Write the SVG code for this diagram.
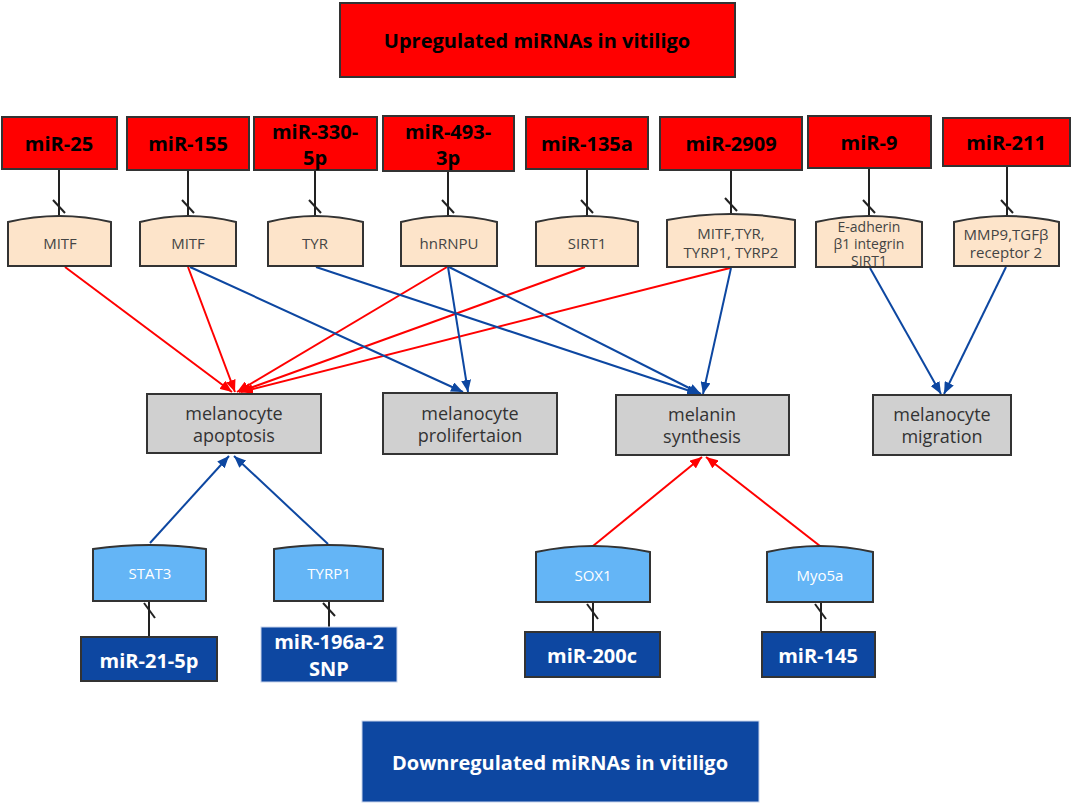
<svg xmlns="http://www.w3.org/2000/svg" width="1072" height="804" viewBox="0 0 1072 804">
<defs>
<marker id="ar" viewBox="0 0 12 10" refX="12" refY="5" markerWidth="12" markerHeight="10" markerUnits="userSpaceOnUse" orient="auto"><polygon points="0,0 12,5 0,10" fill="#ff0000"/></marker>
<marker id="ab" viewBox="0 0 12 10" refX="12" refY="5" markerWidth="12" markerHeight="10" markerUnits="userSpaceOnUse" orient="auto"><polygon points="0,0 12,5 0,10" fill="#0d47a1"/></marker>
</defs>
<style>
text{font-family:"Open Sans","Noto Sans","Liberation Sans",sans-serif;text-anchor:middle;dominant-baseline:central}
.up rect{fill:#ff0000;stroke:#333;stroke-width:2}
.up text{font-size:20px;font-weight:bold;fill:#000}
.tg path{fill:#fde4ca;stroke:#333;stroke-width:2}
.tg text{font-size:15px;fill:#444}
.tg text.s{font-size:14px}
.tb path{fill:#64b5f6;stroke:#333;stroke-width:2}
.tb text{font-size:15px;fill:#fff}
.pr rect{fill:#d0d0d0;stroke:#333;stroke-width:2}
.pr text{font-size:18px;fill:#333}
.dn rect{fill:#0d47a1;stroke:#333;stroke-width:2}
.dn text{font-size:20px;font-weight:bold;fill:#fff}
.k{stroke:#222;stroke-width:2;fill:none}
.r{stroke:#ff0000;stroke-width:2;fill:none;marker-end:url(#ar)}
.b{stroke:#0d47a1;stroke-width:2;fill:none;marker-end:url(#ab)}
</style>
<rect width="1072" height="804" fill="#fff"/>

<g id="title-up" class="up"><rect x="340" y="3" width="395" height="74"/><text x="537" y="40" font-size="19">Upregulated miRNAs in vitiligo</text></g>
<g id="title-down" class="dn"><rect x="362" y="721" width="397" height="81" style="stroke:#c8d4ec;stroke-width:1"/><text x="560" y="762">Downregulated miRNAs in vitiligo</text></g>

<g id="connectors">
<line class="k" x1="59" y1="169" x2="59" y2="216"/><line class="k" x1="53" y1="200" x2="65" y2="213"/>
<line class="k" x1="188" y1="170" x2="188" y2="216"/><line class="k" x1="182" y1="200" x2="194" y2="213"/>
<line class="k" x1="315" y1="170" x2="315" y2="216"/><line class="k" x1="309" y1="200" x2="321" y2="213"/>
<line class="k" x1="448" y1="171" x2="448" y2="216"/><line class="k" x1="442" y1="200" x2="454" y2="213"/>
<line class="k" x1="587" y1="169" x2="587" y2="216"/><line class="k" x1="581" y1="200" x2="593" y2="213"/>
<line class="k" x1="731" y1="170" x2="731" y2="214"/><line class="k" x1="725" y1="198" x2="737" y2="211"/>
<line class="k" x1="869" y1="168" x2="869" y2="216"/><line class="k" x1="863" y1="200" x2="875" y2="213"/>
<line class="k" x1="1007" y1="166" x2="1007" y2="216"/><line class="k" x1="1001" y1="200" x2="1013" y2="213"/>

<line class="k" x1="149" y1="637" x2="149" y2="601"/><line class="k" x1="144" y1="603" x2="155" y2="618"/>
<line class="k" x1="329" y1="627" x2="329" y2="601"/><line class="k" x1="323" y1="603" x2="335" y2="616"/>
<line class="k" x1="593" y1="632" x2="593" y2="602"/><line class="k" x1="587" y1="604" x2="598" y2="619"/>
<line class="k" x1="821" y1="632" x2="821" y2="602"/><line class="k" x1="815" y1="604" x2="826" y2="619"/>

<line class="r" x1="65" y1="267" x2="232" y2="392"/>
<line class="r" x1="188" y1="267" x2="235" y2="392"/>
<line class="r" x1="447" y1="267" x2="237" y2="392"/>
<line class="r" x1="585" y1="267" x2="239" y2="392"/>
<line class="r" x1="730" y1="268" x2="241" y2="392"/>
<line class="b" x1="190" y1="267" x2="463" y2="392"/>
<line class="b" x1="448" y1="267" x2="468" y2="392"/>
<line class="b" x1="316" y1="267" x2="699" y2="394"/>
<line class="b" x1="449" y1="267" x2="701" y2="394"/>
<line class="b" x1="731" y1="268" x2="703" y2="394"/>
<line class="b" x1="870" y1="268" x2="941" y2="394"/>
<line class="b" x1="1006" y1="267" x2="944" y2="394"/>
<line class="b" x1="150" y1="543" x2="229" y2="456"/>
<line class="b" x1="328" y1="544" x2="234" y2="456"/>
<line class="r" x1="593" y1="546" x2="702" y2="457"/>
<line class="r" x1="820" y1="546" x2="706" y2="457"/>
</g>

<g id="mir-25" class="up"><rect x="2" y="117" width="115" height="52"/><text x="59" y="143">miR-25</text></g>
<g id="mir-155" class="up"><rect x="127" y="117" width="122" height="53"/><text x="188" y="143">miR-155</text></g>
<g id="mir-330" class="up"><rect x="254" y="117" width="123" height="53"/><text x="315" y="131">miR-330-</text><text x="315" y="157">5p</text></g>
<g id="mir-493" class="up"><rect x="383" y="116" width="131" height="55"/><text x="448" y="131">miR-493-</text><text x="448" y="157">3p</text></g>
<g id="mir-135a" class="up"><rect x="526" y="117" width="122" height="52"/><text x="587" y="143">miR-135a</text></g>
<g id="mir-2909" class="up"><rect x="660" y="117" width="142" height="53"/><text x="731" y="143">miR-2909</text></g>
<g id="mir-9" class="up"><rect x="808" y="116" width="123" height="52"/><text x="869" y="142">miR-9</text></g>
<g id="mir-211" class="up"><rect x="943" y="118" width="127" height="48"/><text x="1006" y="142">miR-211</text></g>

<g id="t-mitf1" class="tg"><path d="M8,222 Q59.5,210 111,222 L111,266 L8,266 Z"/><text x="60" y="243">MITF</text></g>
<g id="t-mitf2" class="tg"><path d="M140,222 Q188,210 236,222 L236,266 L140,266 Z"/><text x="188" y="243">MITF</text></g>
<g id="t-tyr" class="tg"><path d="M268,222 Q315.5,210 363,222 L363,266 L268,266 Z"/><text x="315" y="243">TYR</text></g>
<g id="t-hnrnpu" class="tg"><path d="M401,222 Q449,210 497,222 L497,266 L401,266 Z"/><text x="449" y="243">hnRNPU</text></g>
<g id="t-sirt1" class="tg"><path d="M536,222 Q587,210 638,222 L638,266 L536,266 Z"/><text x="587" y="243">SIRT1</text></g>
<g id="t-mitf-tyr" class="tg"><path d="M667,220 Q731,208 795,220 L795,267 L667,267 Z"/><text x="731" y="233">MITF,TYR,</text><text x="731" y="252">TYRP1, TYRP2</text></g>
<g id="t-ecad" class="tg"><path d="M816,222 Q869,210 922,222 L922,267 L816,267 Z"/><text class="s" x="869" y="226">E-adherin</text><text class="s" x="869" y="243">β1 integrin</text><text class="s" x="869" y="260">SIRT1</text></g>
<g id="t-mmp9" class="tg"><path d="M954,222 Q1006.5,210 1059,222 L1059,266 L954,266 Z"/><text x="1006" y="234">MMP9,TGFβ</text><text x="1006" y="252">receptor 2</text></g>

<g id="p-apoptosis" class="pr"><rect x="147" y="394" width="174" height="59"/><text x="234" y="413">melanocyte</text><text x="234" y="435">apoptosis</text></g>
<g id="p-prolif" class="pr"><rect x="383" y="393" width="174" height="61"/><text x="470" y="413">melanocyte</text><text x="470" y="435">prolifertaion</text></g>
<g id="p-melanin" class="pr"><rect x="616" y="395" width="173" height="60"/><text x="702" y="414">melanin</text><text x="702" y="436">synthesis</text></g>
<g id="p-migration" class="pr"><rect x="873" y="395" width="138" height="60"/><text x="942" y="414">melanocyte</text><text x="942" y="436">migration</text></g>

<g id="t-stat3" class="tb"><path d="M93,549 Q149.5,541 206,549 L206,601 L93,601 Z"/><text x="150" y="573">STAT3</text></g>
<g id="t-tyrp1" class="tb"><path d="M274,549 Q328.5,541 383,549 L383,601 L274,601 Z"/><text x="329" y="573">TYRP1</text></g>
<g id="t-sox1" class="tb"><path d="M536,552 Q593,540 650,552 L650,602 L536,602 Z"/><text x="593" y="575">SOX1</text></g>
<g id="t-myo5a" class="tb"><path d="M767,552 Q820,540 873,552 L873,602 L767,602 Z"/><text x="820" y="575">Myo5a</text></g>

<g id="mir-21" class="dn"><rect x="81" y="637" width="136" height="44"/><text x="149" y="660">miR-21-5p</text></g>
<g id="mir-196" class="dn"><rect x="261" y="627" width="136" height="55" style="stroke:#c8d4ec;stroke-width:1"/><text x="329" y="641">miR-196a-2</text><text x="329" y="668">SNP</text></g>
<g id="mir-200c" class="dn"><rect x="525" y="632" width="135" height="45"/><text x="592" y="655">miR-200c</text></g>
<g id="mir-145" class="dn"><rect x="762" y="632" width="113" height="45"/><text x="818" y="655">miR-145</text></g>
</svg>
